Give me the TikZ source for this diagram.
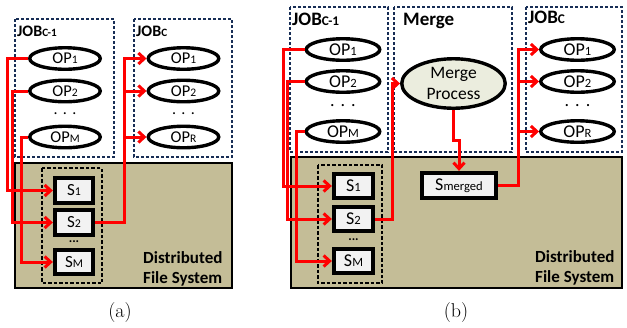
\documentclass[tikz,border=0pt]{standalone}
\usepackage{fontspec}
\usepackage{graphicx}
\usetikzlibrary{arrows.meta, shapes.geometric, positioning}
\newfontfamily\calfont{Carlito}
\definecolor{jobline}{RGB}{23,45,85}
\definecolor{dfsfill}{RGB}{196,189,151}
\definecolor{sfill}{RGB}{242,242,242}
\definecolor{mergefill}{RGB}{235,237,222}
\newcommand*{\smtxt}[1]{\scalebox{0.7}{#1}}
\newcommand*{\fsz}[1]{\fontsize{#1}{#1}\selectfont}

\begin{document}
\begin{tikzpicture}[x=1bp,y=-1bp,
        >={Straight Barb[length=6bp,width=11bp]},
        jobbox/.style={draw=jobline,line width=1.3bp,dash pattern=on 3bp off 2bp},
        dfs/.style={draw=black,fill=dfsfill,line width=1.6bp},
        grp/.style={draw=black,line width=1.4bp,dash pattern=on 3.5bp off 2bp},
        op/.style={ellipse,draw,fill=white,line width=3.4bp,inner sep=0pt,
                   minimum height=21.5bp,font=\calfont\fsz{#1}},
        sbox/.style={rectangle,draw,fill=sfill,line width=3.8bp,inner sep=0pt,
                   minimum height=24.5bp,font=\calfont\fsz{#1}},
        lbl/.style={font=\calfont\bfseries\fsz{#1},inner sep=0pt,anchor=base west},
        dotsep/.style={font=\calfont\fsz{#1},inner sep=0pt},
        flow/.style={red,line width=3bp,->},
        ]
        \useasboundingbox (0,0) rectangle (627,327);

        % (a)
        \draw[jobbox] (15,19) rectangle (114,157);
        \draw[jobbox] (134,19) rectangle (232,157);
        \draw[dfs] (15,163) rectangle (232,288);
        \draw[grp] (42,168) rectangle (102,283);

        \node[lbl=16bp] (ja_lbl) at (17,36) {JOB\smtxt{C-1}};
        \node[lbl=16bp] (jc_lbl) at (136,36) {JOB\smtxt{C}};

        \node[op=16.5bp,minimum width=70.5bp] (a1) at (65,58.5) {OP\smtxt{1}};
        \node[op=16.5bp,minimum width=70.5bp] (a2) at (65,91) {OP\smtxt{2}};
        \node[dotsep=16bp] (a_dots) at (65,114) {.\,\,.\,\,.};
        \node[op=16.5bp,minimum width=70.5bp] (aM) at (65,137) {OP\smtxt{M}};

        \node[op=16.5bp,minimum width=70.5bp] (b1) at (183.5,58.5) {OP\smtxt{1}};
        \node[op=16.5bp,minimum width=70.5bp] (b2) at (183.5,91) {OP\smtxt{2}};
        \node[dotsep=16bp] (b_dots) at (183.5,114) {.\,\,.\,\,.};
        \node[op=16.5bp,minimum width=70.5bp] (bR) at (183.5,137) {OP\smtxt{R}};

        \node[sbox=17bp,minimum width=38.5bp] (as1) at (74,190.5) {S\smtxt{1}};
        \node[sbox=17bp,minimum width=38.5bp] (as2) at (74,222.5) {S\smtxt{2}};
        \node[dotsep=13bp,font=\calfont\bfseries\fsz{13bp}] (as_dots) at (74,242) {...};
        \node[sbox=17bp,minimum width=38.5bp] (asM) at (74,262) {S\smtxt{M}};

        \node[lbl=17bp] (fsa_1) at (143,263) {Distributed};
        \node[lbl=17bp] (fsa_2) at (143,283) {File System};

        \draw[flow] (a1.west) -- ++(-21,0) |- (as1.west);
        \draw[flow] (a2.west) -- ++(-16,0) |- (as2.west);
        \draw[flow] (aM.west) -- ++(-7,0) |- (asM.west);

        \coordinate (ja) at (124,0);
        \draw[flow] (as2.east) -| (ja |- b1.west) -- (b1.west);
        \draw[flow] (ja |- b2.west) -- (b2.west);
        \draw[flow] (ja |- bR.west) -- (bR.west);

        \node[font=\fsz{20bp}] (cap_a) at (120,313) {(a)};

        % (b)
        \draw[jobbox] (290,7) rectangle (388,152);
        \draw[jobbox] (394,7) rectangle (512,152);
        \draw[jobbox] (526,7) rectangle (622,152);
        \draw[dfs] (291,157) rectangle (622,288);
        \draw[grp] (318,165) rectangle (382,283);

        \node[lbl=19bp] (jb_lbl) at (292,25) {JOB\smtxt{C-1}};
        \node[lbl=19bp] (mg_lbl) at (403,25) {Merge};
        \node[lbl=19bp] (jd_lbl) at (528,23) {JOB\smtxt{C}};

        \node[op=18bp,minimum width=73.5bp] (c1) at (343,49.5) {OP\smtxt{1}};
        \node[op=18bp,minimum width=73.5bp] (c2) at (343,81.5) {OP\smtxt{2}};
        \node[dotsep=18bp] (c_dots) at (343,106) {.\,\,.\,\,.};
        \node[op=18bp,minimum width=73.5bp] (cM) at (343,131.5) {OP\smtxt{M}};

        \node[op=18bp,minimum width=73.5bp] (d1) at (577.5,49.5) {OP\smtxt{1}};
        \node[op=18bp,minimum width=73.5bp] (d2) at (577.5,81.5) {OP\smtxt{2}};
        \node[dotsep=18bp] (d_dots) at (577.5,106) {.\,\,.\,\,.};
        \node[op=18bp,minimum width=73.5bp] (dR) at (577.5,131.5) {OP\smtxt{R}};

        \node[ellipse,draw,fill=mergefill,line width=3.4bp,inner sep=0pt,
              minimum width=103.5bp,minimum height=49.5bp,align=center,
              font=\calfont\fontsize{17.5bp}{21bp}\selectfont] (mp) at (453.5,83.5) {Merge\\Process};

        \node[sbox=18bp,minimum width=39.5bp] (bs1) at (353.5,186) {S\smtxt{1}};
        \node[sbox=18bp,minimum width=39.5bp] (bs2) at (353.5,219) {S\smtxt{2}};
        \node[dotsep=13bp,font=\calfont\bfseries\fsz{13bp}] (bs_dots) at (353.5,240) {...};
        \node[sbox=18bp,minimum width=39.5bp] (bsM) at (353.5,261) {S\smtxt{M}};

        \node[sbox=18bp,minimum width=74.5bp,minimum height=25.5bp] (sm) at (459,185.5) {S\smtxt{merged}};

        \node[lbl=17bp] (fsb_1) at (535,262) {Distributed};
        \node[lbl=17bp] (fsb_2) at (535,282) {File System};

        \draw[flow] (c1.west) -- ++(-21.5,0) |- (bs1.west);
        \draw[flow] (c2.west) -- ++(-17.5,0) |- (bs2.west);
        \draw[flow] (cM.west) -- ++(-8.5,0) |- (bsM.west);

        \coordinate (jb) at (392,0);
        \draw[flow] (bs2.east) -| (jb |- mp.west) -- (mp.west);
        \draw[flow] (mp.south) -- ++(0,31) -| (sm.north);

        \coordinate (jc) at (518,0);
        \draw[flow] (sm.east) -| (jc |- d1.west) -- (d1.west);
        \draw[flow] (jc |- d2.west) -- (d2.west);
        \draw[flow] (jc |- dR.west) -- (dR.west);

        \node[font=\fsz{20bp}] (cap_b) at (456,313) {(b)};
\end{tikzpicture}
\end{document}
